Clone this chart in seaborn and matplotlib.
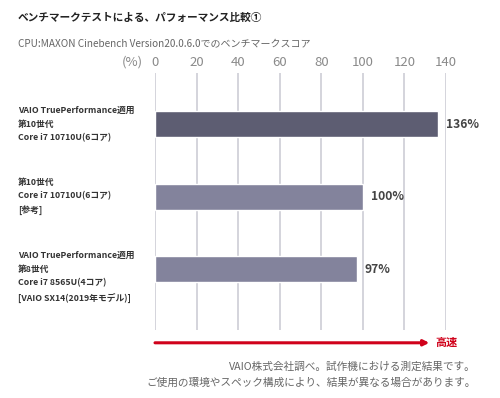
import matplotlib
matplotlib.use("Agg")
import matplotlib.pyplot as plt
import matplotlib.transforms as mtransforms
import seaborn as sns
import pandas as pd

# data
categories = ["VAIO TruePerformance適用\n第10世代\nCore i7 10710U(6コア)",
              "第10世代\nCore i7 10710U(6コア)\n[参考]",
              "VAIO TruePerformance適用\n第8世代\nCore i7 8565U(4コア)\n[VAIO SX14(2019年モデル)]"]
scores = [136, 100, 97]
value_labels = ["136%", "100%", "97%"]
bar_colors = ["#595975", "#7f7fa0", "#7f7fa0"]
ticks = [0, 20, 40, 60, 80, 100, 120, 140]

df = pd.DataFrame({"cpu": categories, "score": scores})

sns.set_style("white")
plt.rcParams['font.family'] = ['Noto Sans CJK JP', 'DejaVu Sans']

fig = plt.figure(figsize=(5, 3.98), dpi=100)
ax = fig.add_axes([0.31, 0.171, 0.582, 0.646])

# vertical grid lines
for t in ticks:
    ax.axvline(t, color="#cdcdd6", lw=1.2, zorder=0)

sns.barplot(data=df, x="score", y="cpu", hue="cpu", palette=bar_colors,
            orient="h", width=0.36, legend=False, ax=ax, zorder=2)

ax.set_xlim(0, 140)
ax.set_ylim(2.834, -0.71)
ax.xaxis.tick_top()
ax.set_xticks(ticks)
ax.set_xticklabels([str(t) for t in ticks], color="#8a8a8a", fontsize=9.5)
ax.tick_params(axis="x", length=0, pad=3)
ax.set_yticks([])
ax.set_xlabel("")
ax.set_ylabel("")
for s in ax.spines.values():
    s.set_visible(False)

# value labels
for i, (v, lab) in enumerate(zip(scores, value_labels)):
    ax.text(v + 4, i, lab, va="center", ha="left", fontsize=8.7,
            color="#444444", fontweight="bold")

# category labels on the left
label_tops = [112, 184, 257]
for cat, ytop in zip(categories, label_tops):
    fig.text(18 / 500, 1 - (ytop - 6) / 398, cat, ha="left", va="top",
             fontsize=6.3, color="#333333", fontweight="bold", linespacing=1.65)

fig.text(122 / 500, 1 - 62 / 398, "(%)", ha="left", va="center",
         fontsize=9.5, color="#8a8a8a")

# titles
fig.text(18 / 500, 1 - 18 / 398, "ベンチマークテストによる、パフォーマンス比較①",
         ha="left", va="center", fontsize=7.7, fontweight="bold", color="#222222")
fig.text(18 / 500, 1 - 43 / 398, "CPU:MAXON Cinebench Version20.0.6.0でのベンチマークスコア",
         ha="left", va="center", fontsize=7.2, color="#666666")

# speed arrow
trans = mtransforms.blended_transform_factory(ax.transData, ax.transAxes)
ax.annotate("", xy=(132, -0.05), xytext=(0, -0.05), xycoords=trans, textcoords=trans,
            arrowprops=dict(arrowstyle="-|>", color="#d0021b", lw=2.2,
                            mutation_scale=8, shrinkA=0, shrinkB=0),
            annotation_clip=False)
ax.text(135, -0.05, "高速", transform=trans, ha="left", va="center",
        fontsize=8, color="#d0021b", fontweight="bold", clip_on=False)

# footnote
fig.text(476 / 500, 1 - 367 / 398, "VAIO株式会社調べ。試作機における測定結果です。",
         ha="right", va="center", fontsize=7.7, color="#666666")
fig.text(476 / 500, 1 - 383 / 398, "ご使用の環境やスペック構成により、結果が異なる場合があります。",
         ha="right", va="center", fontsize=7.7, color="#666666")

fig.savefig("out.png", dpi=100, facecolor="white")
